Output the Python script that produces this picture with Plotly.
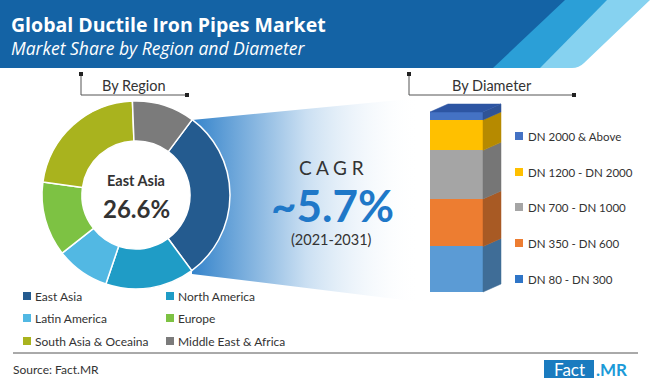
import plotly.graph_objects as go

# ---------------- data ----------------
regions = ["East Asia", "North America", "Latin America", "Europe",
           "South Asia & Oceaina", "Middle East & Africa"]
region_share = [29.7, 15.3, 9.2, 12.8, 22.2, 10.8]
region_colors = ["#245b8f", "#1f9cc6", "#52b8e3", "#7dc243", "#a9b31e", "#7b7b7b"]

diameters = ["DN 80 - DN 300", "DN 350 - DN 600", "DN 700 - DN 1000",
             "DN 1200 - DN 2000", "DN 2000 & Above"]
diameter_share = [25.3, 26.4, 27.0, 16.9, 4.4]
diam_front = ["#5b9bd5", "#ed7d31", "#a5a5a5", "#ffc000", "#4472c4"]
diam_side = ["#3f6d97", "#a85a24", "#767676", "#b68a00", "#2f5396"]
diam_legend = ["#2f75c7", "#ed7d31", "#a5a5a5", "#ffc000", "#4472c4"]

title = "Global Ductile Iron Pipes Market"
subtitle = "Market Share by Region and Diameter"
highlight_label, highlight_value = "East Asia", "26.6%"
cagr_value, cagr_period = "~5.7%", "(2021-2031)"

W, H = 650, 388
FONT = "Lato"
TXT = "#333333"

fig = go.Figure()

# overlay pixel axis
fig.update_layout(
    xaxis=dict(range=[0, W], domain=[0, 1], visible=False, fixedrange=True),
    yaxis=dict(range=[H, 0], domain=[0, 1], visible=False, fixedrange=True),
)

# gradient funnel from donut to CAGR
fig.add_trace(go.Scatter(
    x=[192, 420, 420, 192, 192], y=[120, 98, 302, 274, 120],
    mode="lines", line=dict(width=0), fill="toself",
    fillgradient=dict(type="horizontal",
                      colorscale=[[0, "#3584cb"], [0.5, "#cadff2"], [1, "rgba(255,255,255,0)"]]),
    hoverinfo="skip", showlegend=False, xaxis="x", yaxis="y"))

# donut
cx, cy, R = 136, 195, 94
fig.add_trace(go.Pie(
    labels=regions, values=region_share, sort=False, direction="clockwise",
    rotation=36.7, hole=0.575, textinfo="none", hoverinfo="label+percent",
    marker=dict(colors=region_colors, line=dict(color="white", width=1.5)),
    domain=dict(x=[(cx - R) / W, (cx + R) / W], y=[1 - (cy + R) / H, 1 - (cy - R) / H]),
    showlegend=False))

# 3D stacked bar
ymin_px, ymax_px = 300, 100
u_per_px = 100 / 180.0
base_px = 292
y_lo = -(ymin_px - base_px) * u_per_px
y_hi = 100 + (base_px - 180 - ymax_px) * u_per_px
bar_px = 53.0
x_lo = -0.5 - 10 / bar_px
x_hi = x_lo + 100 / bar_px
fig.update_layout(
    xaxis2=dict(domain=[420 / W, 520 / W], range=[x_lo, x_hi], visible=False, fixedrange=True, anchor="y2"),
    yaxis2=dict(domain=[1 - ymin_px / H, 1 - ymax_px / H], range=[y_lo, y_hi], visible=False, fixedrange=True, anchor="x2"),
    barmode="stack",
)
dx = 18 / bar_px
dy = 8 * u_per_px
cum = 0
for name, v, cf, cs in zip(diameters, diameter_share, diam_front, diam_side):
    b, t = cum, cum + v
    fig.add_trace(go.Scatter(
        x=[0.5, 0.5 + dx, 0.5 + dx, 0.5, 0.5], y=[b, b + dy, t + dy, t, b],
        mode="lines", line=dict(width=0.5, color=cs), fill="toself", fillcolor=cs,
        hoverinfo="skip", showlegend=False, xaxis="x2", yaxis="y2"))
    fig.add_trace(go.Bar(x=[0], y=[v], width=1, name=name, marker=dict(color=cf, line=dict(width=0)),
                         showlegend=False, xaxis="x2", yaxis="y2"))
    cum = t
fig.add_trace(go.Scatter(
    x=[-0.5, 0.5, 0.5 + dx, -0.5 + dx, -0.5], y=[cum, cum, cum + dy, cum + dy, cum],
    mode="lines", line=dict(width=0.5, color="#2d55a3"), fill="toself", fillcolor="#2d55a3",
    hoverinfo="skip", showlegend=False, xaxis="x2", yaxis="y2"))

shapes = []
ann = []

def A(x, y, text, size=12, color=TXT, xanchor="left", bold=False, family=FONT, italic=False):
    if bold:
        text = "<b>" + text + "</b>"
    if italic:
        text = "<i>" + text + "</i>"
    ann.append(dict(x=x, y=y, xref="x", yref="y", text=text, showarrow=False,
                    xanchor=xanchor, yanchor="middle",
                    font=dict(size=size, color=color, family=family)))

# header band
shapes.append(dict(type="path", xref="x", yref="y", layer="below",
                   path="M 0,0 L 650,0 L 584,63 Q 579,68 572,68 L 0,68 Z",
                   fillcolor="#86d2f0", line=dict(width=0)))
shapes.append(dict(type="path", xref="x", yref="y", layer="below",
                   path="M 0,0 L 607,0 L 540,68 L 0,68 Z",
                   fillcolor="#2b9fd7", line=dict(width=0)))
shapes.append(dict(type="path", xref="x", yref="y", layer="below",
                   path="M 0,0 L 565,0 L 493,68 L 0,68 Z",
                   fillcolor="#1463a5", line=dict(width=0)))
A(9, 24, title, size=19.5, color="white", bold=True, family="Open Sans")
A(9, 48, subtitle, size=17.5, color="white", italic=True, family="Open Sans")

# section brackets
for x0, x1, label in [(81, 187, "By Region"), (409, 574, "By Diameter")]:
    shapes.append(dict(type="line", xref="x", yref="y", x0=x0, y0=74, x1=x0, y1=95,
                       line=dict(color="#555555", width=1)))
    shapes.append(dict(type="line", xref="x", yref="y", x0=x0, y0=95, x1=x1, y1=95,
                       line=dict(color="#555555", width=1)))
    for (sx, sy) in [(x0, 74), (x1, 95)]:
        shapes.append(dict(type="rect", xref="x", yref="y", x0=sx - 2, x1=sx + 2, y0=sy - 2, y1=sy + 2,
                           fillcolor="#222222", line=dict(width=0)))
    A((x0 + x1) / 2, 85, label, size=14.5, color=TXT, xanchor="center")

# donut centre text
A(cx, 180, highlight_label, size=14.5, color=TXT, xanchor="center", bold=True)
A(cx, 208, highlight_value, size=24, color=TXT, xanchor="center", bold=True)

# CAGR
A(331, 167, "C A G R", size=19, color=TXT, xanchor="center")
A(332, 205, cagr_value, size=44, color="#1f78c8", xanchor="center", bold=True)
A(331, 239, cagr_period, size=14.5, color=TXT, xanchor="center")

# region legend
leg_pos = [(23, 296), (166, 296), (23, 318), (166, 318), (23, 341), (166, 341)]
for (lx, ly), name, col in zip(leg_pos, regions, region_colors):
    shapes.append(dict(type="rect", xref="x", yref="y", x0=lx, x1=lx + 8, y0=ly - 4, y1=ly + 4,
                       fillcolor=col, line=dict(width=0)))
    A(lx + 10, ly, name, size=12, color=TXT)

# diameter legend (top to bottom)
rows_y = [279, 243, 207, 172, 136]
for ly, name, col in zip(rows_y, diameters, diam_legend):
    shapes.append(dict(type="rect", xref="x", yref="y", x0=515, x1=523, y0=ly - 4, y1=ly + 4,
                       fillcolor=col, line=dict(width=0)))
    A(526, ly, name, size=11.5, color=TXT)

# footer
shapes.append(dict(type="line", xref="x", yref="y", x0=13, y0=353, x1=638, y1=353,
                   line=dict(color="#555555", width=1)))
A(11, 369, "Source: Fact.MR", size=12, color=TXT)
shapes.append(dict(type="rect", xref="x", yref="y", x0=544, x1=594, y0=360, y1=378,
                   fillcolor="#1a7bbf", line=dict(width=0)))
A(569, 369, "Fact", size=17, color="white", xanchor="center")
A(594, 369, "<b>.MR</b>", size=17, color="#1b9ad8")

fig.update_layout(
    width=W, height=H, margin=dict(l=0, r=0, t=0, b=0),
    paper_bgcolor="white", plot_bgcolor="rgba(0,0,0,0)",
    shapes=shapes, annotations=ann, showlegend=False,
    font=dict(family=FONT),
)

fig.write_html("out.html", config={"displayModeBar": False},
               post_script="document.body.style.margin='0px';document.body.style.padding='0px';")
